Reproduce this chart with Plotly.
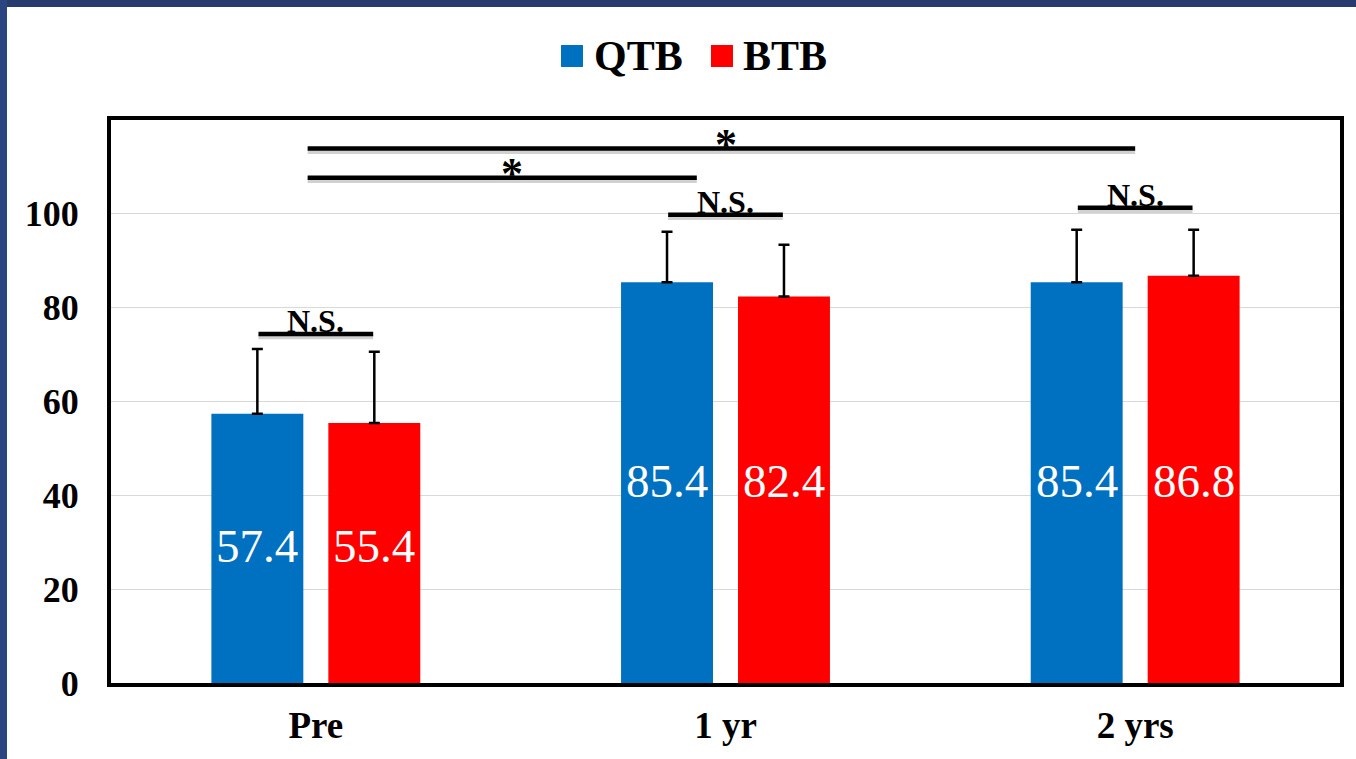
import plotly.graph_objects as go

categories = ["Pre", "1 yr", "2 yrs"]
cat_pos = [0, 1, 2]
series_names = ["QTB", "BTB"]
qtb_values = [57.4, 85.4, 85.4]
btb_values = [55.4, 82.4, 86.8]
qtb_err = [13.8, 10.8, 11.2]
btb_err = [15.2, 11.0, 9.8]

y_ticks = [0, 20, 40, 60, 80, 100]

# significance brackets (x in category units, y in data units)
sig_x0 = [-0.14, 0.86, 1.86, -0.02, -0.02]
sig_x1 = [0.14, 1.14, 2.14, 0.93, 2.0]
sig_y = [74.4, 99.8, 101.3, 107.7, 113.9]
sig_label = ["N.S.", "N.S.", "N.S.", "*", "*"]
sig_label_x = [0.0, 1.0, 2.0, 0.48, 1.0]

BLUE = "#0070C0"
RED = "#FF0000"
FONT = "Liberation Serif"

W, H = 1356, 759
ML, MR, MT, MB = 111, 16, 120, 76
PW, PH = W - ML - MR, H - MT - MB
BARGAP, BARGROUPGAP = 0.429, 0.214


def px_x(p):
    return (p - ML) / PW


def px_y(p):
    return (H - MB - p) / PH


fig = go.Figure()

colors = [BLUE, RED]
all_values = [qtb_values, btb_values]
for name, vals, errs, col in zip(series_names, all_values, [qtb_err, btb_err], colors):
    fig.add_trace(go.Bar(
        x=cat_pos, y=vals, name=name, marker=dict(color=col, line=dict(width=0)),
        error_y=dict(type="data", symmetric=False, array=errs, arrayminus=[0] * len(errs),
                     color="black", thickness=2.5, width=5.5),
        showlegend=False, hoverinfo="skip",
    ))

shapes = []
annotations = []

# value labels inside bars: centred on each bar, aligned per category at half of the first bar's height
slot = (1 - BARGAP) / len(series_names)
for si, vals in enumerate(all_values):
    offset = -(1 - BARGAP) / 2 + slot * (si + 0.5)
    for ci, v in enumerate(vals):
        annotations.append(dict(x=cat_pos[ci] + offset, y=qtb_values[ci] / 2, xref="x", yref="y",
                                text=f"{v:.1f}", showarrow=False, xanchor="center", yanchor="middle",
                                yshift=2, font=dict(family=FONT, size=47, color="white")))

for x0, x1, y, lab, lx in zip(sig_x0, sig_x1, sig_y, sig_label, sig_label_x):
    shapes.append(dict(type="line", xref="x", yref="y", x0=x0, x1=x1, y0=y - 0.6, y1=y - 0.6,
                       line=dict(color="rgba(0,0,0,0.18)", width=5), layer="above"))
    shapes.append(dict(type="line", xref="x", yref="y", x0=x0, x1=x1, y0=y, y1=y,
                       line=dict(color="black", width=4.5), layer="above"))
    if lab == "*":
        annotations.append(dict(x=lx, y=y, xref="x", yref="y", text="<b>" + lab + "</b>", showarrow=False,
                                yanchor="middle", yshift=4,
                                font=dict(family=FONT, size=44, color="black")))
    else:
        annotations.append(dict(x=lx, y=y, xref="x", yref="y", text="<b>" + lab + "</b>", showarrow=False,
                                yanchor="bottom", yshift=-7,
                                font=dict(family=FONT, size=32, color="black")))

# manual legend (square swatch + bold label)
leg_sq_x = [561, 711]
leg_txt_x = [592, 741]
for name, col, sx, tx in zip(series_names, colors, leg_sq_x, leg_txt_x):
    shapes.append(dict(type="rect", xref="paper", yref="paper", x0=px_x(sx), x1=px_x(sx + 22),
                       y0=px_y(67), y1=px_y(45), fillcolor=col, line=dict(width=0)))
    annotations.append(dict(x=px_x(tx), y=px_y(56), xref="paper", yref="paper", text="<b>" + name + "</b>",
                            showarrow=False, xanchor="left", yanchor="middle",
                            font=dict(family=FONT, size=42, color="black")))

# dark blue frame strips (slide border) at top and left
shapes.append(dict(type="rect", xref="paper", yref="paper", layer="above",
                   x0=px_x(0), x1=px_x(W), y0=px_y(0), y1=px_y(7),
                   fillcolor="#273b6e", line=dict(width=0)))
shapes.append(dict(type="rect", xref="paper", yref="paper", layer="above",
                   x0=px_x(0), x1=px_x(7), y0=px_y(0), y1=px_y(H),
                   fillcolor="#2b4580", line=dict(width=0)))

fig.update_layout(
    width=W, height=H,
    margin=dict(l=ML, r=MR, t=MT, b=MB, autoexpand=False),
    paper_bgcolor="white", plot_bgcolor="white",
    barmode="group", bargap=BARGAP, bargroupgap=BARGROUPGAP,
    font=dict(family=FONT, color="black"),
    showlegend=False,
    xaxis=dict(range=[-0.5, 2.5], tickvals=cat_pos, ticktext=["<b>" + c + "</b>" for c in categories],
               tickfont=dict(family=FONT, size=37, color="black"), ticks="", ticklabelstandoff=7,
               automargin=False,
               showline=True, linecolor="black", linewidth=4, mirror=True, showgrid=False, zeroline=False),
    yaxis=dict(range=[0, 120], tickvals=y_ticks, ticktext=["<b>%d</b>" % t for t in y_ticks],
               tickfont=dict(family=FONT, size=36, color="black"), ticks="", ticklabelstandoff=21,
               automargin=False,
               showline=True, linecolor="black", linewidth=4, mirror=True,
               showgrid=True, gridcolor="#d9d9d9", gridwidth=1, zeroline=False),
    shapes=shapes, annotations=annotations,
)

fig.write_html("out.html", config={"displayModeBar": False},
               post_script="document.body.style.margin='0';document.body.style.overflow='hidden';")
